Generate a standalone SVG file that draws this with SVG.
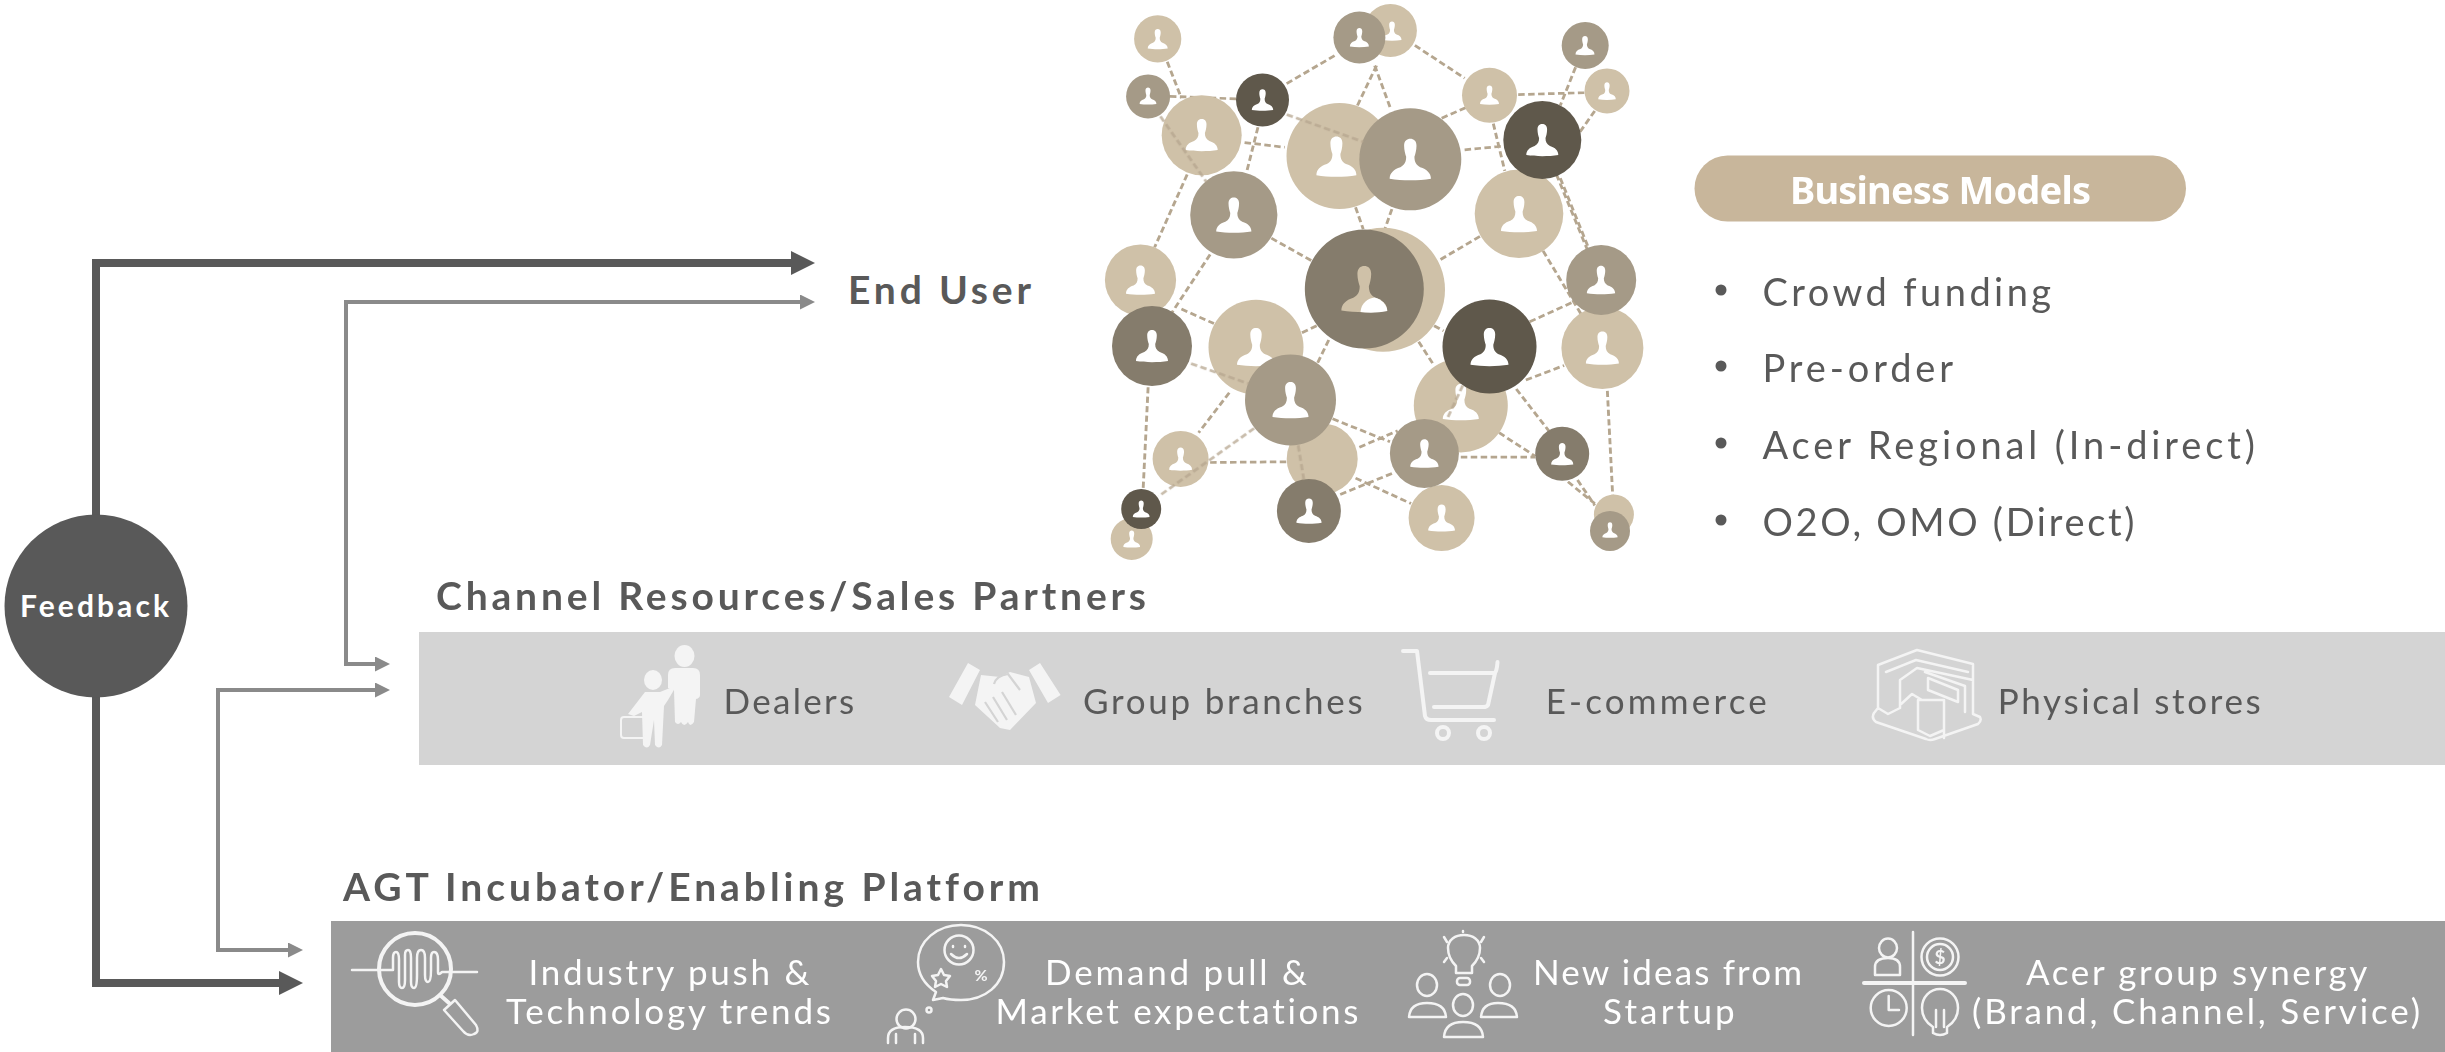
<svg xmlns="http://www.w3.org/2000/svg" width="2445" height="1052" viewBox="0 0 2445 1052">
<style>
text{font-family:"Lato","Noto Sans","Liberation Sans",sans-serif;font-variant-ligatures:none}
.h{font-weight:700;font-size:39px;fill:#595959}
.b{font-size:38px;fill:#595959}
.c{font-size:35px;fill:#595959}
.w{font-size:35px;fill:#fff}
.L{fill:#cfc1a8}.M{fill:#a59a87}.K{fill:#857c6c}.D{fill:#5f584b}
.dash{fill:none;stroke:#b5a68f;stroke-width:7.5;stroke-dasharray:17 9}
.thick{fill:none;stroke:#595959;stroke-width:8}
.thin{fill:none;stroke:#8a8a8a;stroke-width:4}
.ic{fill:none;stroke:#f4f4f4;stroke-width:4;stroke-linecap:round;stroke-linejoin:round}
.it{fill:none;stroke:#f4f4f4;stroke-width:2.5;stroke-linecap:round;stroke-linejoin:round}
.if{fill:#f4f4f4}
.p{fill:#fff}
</style>
<defs>
<marker id="ah1" markerUnits="userSpaceOnUse" markerWidth="24" markerHeight="24" refX="4" refY="12" orient="auto"><path d="M0 0L24 12L0 24Z" fill="#595959"/></marker>
<marker id="ah2" markerUnits="userSpaceOnUse" markerWidth="15" markerHeight="15" refX="3" refY="7.5" orient="auto-start-reverse"><path d="M0 0L15 7.5L0 15Z" fill="#8a8a8a"/></marker>
<path id="u" d="M-15-33C-15-45-8-50 0-50C8-50 15-45 15-33C15-22 12-12 10-6C10 6 14 14 24 19C40 24 50 33 50 47C20 52-20 52-50 47C-50 33-40 24-24 19C-14 14-10 6-10-6C-12-12-15-22-15-33Z"/>
<filter id="soft" x="-5%" y="-5%" width="110%" height="110%"><feGaussianBlur stdDeviation="0.7"/></filter>
</defs>

<g id="connectors">
<path class="thick" d="M96 515V263H795" marker-end="url(#ah1)"/>
<path class="thick" d="M96 697V983H283" marker-end="url(#ah1)"/>
<path class="thin" d="M803 302H346V664H378" marker-start="url(#ah2)" marker-end="url(#ah2)"/>
<path class="thin" d="M378 690H218V950H291" marker-start="url(#ah2)" marker-end="url(#ah2)"/>
</g>

<g id="feedback">
<circle cx="96" cy="606" r="91.5" fill="#595959"/>
<text x="20" y="617" font-size="30" font-weight="700" fill="#fff" textLength="149">Feedback</text>
</g>

<g id="end-user">
<text class="h" x="848" y="304" textLength="183">End User</text>
</g>

<g id="network" filter="url(#soft)">
<g id="network-links" transform="translate(1080 0) scale(.3827 .3636)">
<path class="dash" d="M228 170L265 270M235 265L410 272M540 230L670 150M875 125L1005 215M770 180L812 300M775 180L725 290M430 392L535 405M465 350L435 475M280 480L195 680M340 700L240 860M500 655L610 720M720 570L740 630M815 575L795 635M945 325L1010 295M1005 412L1105 402M1145 260L1320 255M1295 185L1255 290M1345 305L1305 365M1080 340L1110 470M1245 480L1325 685M1255 490L1330 685M1045 650L940 715M1210 690L1310 865M1175 885L1290 830M880 870L950 910M885 940L925 1005M265 850L350 890M580 915L620 895M650 935L620 1000M1165 1045L1265 1005M1140 1070L1225 1185M1095 1190L1190 1255M1378 1075L1392 1365M178 1065L165 1345M390 1080L310 1190M340 1272L545 1270M660 1152L810 1215M730 1230L830 1185M995 1257L1190 1257M680 1360L820 1300M720 1315L865 1385M1275 1325L1345 1385M1300 1320L1345 1390"/>
</g>
<circle class="L" cx="1157.7" cy="38.9" r="23.6"/><use href="#u" class="p" transform="translate(1157.7 39) scale(.2)"/>
<circle class="L" cx="1390.4" cy="30.5" r="26.5"/><use href="#u" class="p" transform="translate(1392 31) scale(.19)"/>
<circle class="M" cx="1359.4" cy="37.5" r="26"/><use href="#u" class="p" transform="translate(1359.4 37.5) scale(.19)"/>
<circle class="M" cx="1585.2" cy="45.5" r="23.5"/><use href="#u" class="p" transform="translate(1585 45.5) scale(.19)"/>
<circle class="L" cx="1489.5" cy="95.3" r="27.5"/><use href="#u" class="p" transform="translate(1489.5 95) scale(.19)"/>
<circle class="L" cx="1607" cy="90.9" r="22.5"/><use href="#u" class="p" transform="translate(1607 91) scale(.176)"/>
<circle class="L" cx="1201.7" cy="135.3" r="40"/><use href="#u" class="p" transform="translate(1201.7 135) scale(.32)"/>
<circle class="M" cx="1148.1" cy="96.4" r="22"/><use href="#u" class="p" transform="translate(1148 96) scale(.168)"/>
<circle class="D" cx="1262.5" cy="100" r="26.5"/><use href="#u" class="p" transform="translate(1262.5 100) scale(.214)"/>
<circle class="L" cx="1339.5" cy="156" r="53"/><use href="#u" class="p" transform="translate(1336.4 156.4) scale(.4)"/>
<circle class="M" cx="1410.3" cy="159.3" r="51"/><use href="#u" class="p" transform="translate(1410.3 159.3) scale(.413)"/>
<circle class="L" cx="1519" cy="213.8" r="44.3"/><use href="#u" class="p" transform="translate(1519 214) scale(.36)"/>
<circle class="D" cx="1542.3" cy="140" r="39"/><use href="#u" class="p" transform="translate(1542.3 140) scale(.32)"/>
<circle class="M" cx="1233.8" cy="214.9" r="43.6"/><use href="#u" class="p" transform="translate(1233.8 215) scale(.352)"/>
<circle class="L" cx="1140.5" cy="280" r="35.6"/><use href="#u" class="p" transform="translate(1140.5 280) scale(.29)"/>
<circle class="L" cx="1602.4" cy="348" r="41"/><use href="#u" class="p" transform="translate(1602.4 348) scale(.33)"/>
<circle class="M" cx="1601.2" cy="280" r="35"/><use href="#u" class="p" transform="translate(1601 280) scale(.283)"/>
<circle class="L" cx="1383" cy="289.8" r="62"/>
<circle class="K" cx="1364.3" cy="289" r="59.5"/>
<use href="#u" class="L" transform="translate(1364.3 289) scale(.459)"/>
<path class="p" d="M1360.5 312C1361 303 1368 298 1374.7 297.4C1381 299 1387 304 1387.3 311C1378 313 1368 313 1360.5 312Z"/>
<circle class="K" cx="1152" cy="346.1" r="40"/><use href="#u" class="p" transform="translate(1152 346) scale(.32)"/>
<circle class="L" cx="1256" cy="347.2" r="47.5"/><use href="#u" class="p" transform="translate(1256 347) scale(.38)"/>
<circle class="L" cx="1460.8" cy="405.4" r="47"/><use href="#u" class="p" transform="translate(1460.8 402) scale(.36)"/>
<circle class="D" cx="1489.5" cy="346.5" r="47"/><use href="#u" class="p" transform="translate(1489.5 347) scale(.38)"/>
<circle class="L" cx="1322.2" cy="458.9" r="35.5"/>
<circle class="M" cx="1290.5" cy="400" r="45.5"/><use href="#u" class="p" transform="translate(1290.5 400) scale(.36)"/>
<circle class="L" cx="1180.6" cy="458.9" r="28"/><use href="#u" class="p" transform="translate(1180.6 459) scale(.23)"/>
<circle class="L" cx="1441.6" cy="518.1" r="33"/><use href="#u" class="p" transform="translate(1441.6 518) scale(.268)"/>
<circle class="M" cx="1424.4" cy="453.4" r="34.5"/><use href="#u" class="p" transform="translate(1424.4 453.4) scale(.283)"/>
<circle class="K" cx="1562.2" cy="453.8" r="27"/><use href="#u" class="p" transform="translate(1562.2 454) scale(.222)"/>
<circle class="L" cx="1131.7" cy="538.9" r="21"/><use href="#u" class="p" transform="translate(1131.7 539) scale(.168)"/>
<circle class="D" cx="1141.2" cy="509" r="20"/><use href="#u" class="p" transform="translate(1141.2 509) scale(.168)"/>
<circle class="K" cx="1308.9" cy="510.9" r="32"/><use href="#u" class="p" transform="translate(1309 511) scale(.252)"/>
<circle class="L" cx="1613.9" cy="514.5" r="20"/>
<circle class="M" cx="1610" cy="530.9" r="20"/><use href="#u" class="p" transform="translate(1610 530) scale(.153)"/>
<g id="network-links-over" transform="translate(1080 0) scale(.3827 .3636)" opacity=".75">
<path class="dash" d="M210 320L330 500M540 315L740 390M290 1000L440 1055M1000 1060L960 1150M570 1225L585 1320M455 1178L205 1365"/>
</g>
</g>

<g id="business-models">
<rect x="1694.5" y="155.5" width="491.5" height="66" rx="33" fill="#c8b69b"/>
<text x="1790" y="203.5" font-size="38" font-weight="700" fill="#fff" style="font-family:'Noto Sans','Liberation Sans',sans-serif" textLength="301">Business Models</text>
<circle cx="1721" cy="290" r="5.5" fill="#595959"/><text class="b" x="1762.5" y="306" textLength="288.6">Crowd funding</text>
<circle cx="1721" cy="366" r="5.5" fill="#595959"/><text class="b" x="1762.5" y="382" textLength="190.6">Pre-order</text>
<circle cx="1721" cy="443" r="5.5" fill="#595959"/><text class="b" x="1762.5" y="459" textLength="492.5">Acer Regional (In-direct)</text>
<circle cx="1721" cy="520" r="5.5" fill="#595959"/><text class="b" x="1762.5" y="536" textLength="372">O2O, OMO (Direct)</text>
</g>

<g id="channel">
<text class="h" x="436" y="610" textLength="710">Channel Resources/Sales Partners</text>
<rect x="419" y="632" width="2026" height="133" fill="#d4d4d4"/>
<g id="dealers">
<ellipse class="if" cx="684.5" cy="656" rx="10" ry="11"/>
<path class="if" d="M668 675Q668 668 675 668H693Q700 668 700 675V695Q700 698 696 699L694 722Q690 728 688 722Q684 728 681 722Q678 726 675 722L674 690L668 688Z"/>
<ellipse class="if" cx="653" cy="680" rx="9" ry="10"/>
<path class="if" d="M645 692H660L670 688L677 680Q680 676 678 683L668 700L664 706L662 745Q659 750 655 745L654 720L650 745Q647 750 643 745L642 712L634 716L628 714Z"/>
<rect x="621" y="717" width="25" height="21" rx="3" fill="none" stroke="#f4f4f4" stroke-width="2"/>
<text class="c" x="723.5" y="714" textLength="130.7">Dealers</text>
</g>
<g id="group-branches">
<path class="if" d="M949 697L968 663L980 670L962 705ZM1029 670L1040 663L1060.6 695L1048 703Z"/>
<path class="if" d="M981 675L1000 677L1010 672L1029 677L1036 703L1010 730L1000 728L975 705Z"/>
<path fill="none" stroke="#d4d4d4" stroke-width="2.2" d="M985 702L998 722M993 697L1007 720M1002 692L1016 715M1020 690L1008 674Q996 676 994 684"/>
<text class="c" x="1083" y="714" textLength="279.6">Group branches</text>
</g>
<g id="e-commerce">
<path class="ic" d="M1403 651H1417L1425 716Q1426 720 1431 720H1494M1430 673H1494M1497.5 662Q1497 670 1495 673L1488 705Q1487 707 1483 707H1434"/>
<circle class="ic" cx="1443" cy="733" r="6"/><circle class="ic" cx="1484" cy="733" r="6"/>
<text class="c" x="1545.7" y="714" textLength="221">E-commerce</text>
</g>
<g id="physical-stores">
<path class="it" stroke-width="3" d="M1878 665L1917 650L1973 664V714L1980 717Q1982 721 1978 724L1935 739Q1930 741 1926 739L1876 722Q1871 718 1874 713L1878 708ZM1878 665V708L1888 714L1900 708V680L1917 668L1973 680M1886 672L1916 660L1968 672M1900 680V705L1912 694L1922 700M1925 672L1965 686V712M1928 678L1958 690V702L1928 690ZM1918 700H1944V738M1918 700V730L1930 736L1944 730"/>
<text class="c" x="1997.7" y="714" textLength="263">Physical stores</text>
</g>
</g>

<g id="platform">
<text class="h" x="343" y="901" textLength="697">AGT Incubator/Enabling Platform</text>
<rect x="331" y="921" width="2114" height="131" fill="#9c9c9c"/>
<g id="industry">
<circle class="ic" stroke-width="5" cx="415" cy="969" r="36"/>
<path class="it" d="M352 970H383H393V958Q393 952 396 952Q399 952 399 960V982Q399 988 402 988Q405 988 405 980V955Q405 950 408 950Q411 950 411 958V982Q411 988 414 988Q417 988 417 975V958Q417 950 421 950Q425 950 425 958V975Q425 982 428 982Q431 982 431 970V958Q431 952 434 952Q438 952 438 960V972Q438 976 442 972H477"/>
<path class="ic" d="M440 995L449 1003"/>
<path class="it" d="M455 1000L476 1025Q480 1032 474 1034Q468 1037 463 1031L444 1010Z"/>
<text class="w" x="528.4" y="984.5" textLength="281">Industry push &amp;</text>
<text class="w" x="506" y="1024" textLength="325">Technology trends</text>
</g>
<g id="demand">
<path class="it" stroke-width="3" d="M918 962C918 941 937 925 961 925C985 925 1004 941 1004 962C1004 985 985 1000 961 1000Q950 1000 943 998L933 1000L936 992Q918 980 918 962Z"/>
<circle class="it" cx="959" cy="950" r="14.5"/>
<path class="it" d="M951 954Q959 962 967 954M953 946V947M965 946V947"/>
<path class="it" d="M941 969L944 975L950 976L946 981L947 987L941 984L935 987L936 981L932 976L938 975Z"/>
<text x="981" y="981" font-size="16" font-weight="700" fill="#f4f4f4" text-anchor="middle">%</text>
<circle class="it" cx="906" cy="1019" r="9.5"/>
<circle class="it" cx="929" cy="1010" r="2.5"/>
<path class="it" d="M888 1043V1038Q888 1027 905 1027Q923 1027 923 1038V1043M896 1034V1043M915 1034V1043"/>
<text class="w" x="1045" y="984.5" textLength="262">Demand pull &amp;</text>
<text class="w" x="995.5" y="1024" textLength="363">Market expectations</text>
</g>
<g id="ideas">
<path class="it" d="M1456 973V966Q1448 958 1448 948C1448 940 1455 935 1464 935C1473 935 1480 940 1480 948Q1480 958 1472 966V973ZM1456 973H1472"/>
<rect class="it" x="1457" y="978" width="13" height="7" rx="3"/>
<path class="it" d="M1463 931V932M1444 937L1447 942M1484 937L1481 942M1444 962L1447 958M1484 962L1481 958"/>
<ellipse class="it" cx="1427" cy="985" rx="10" ry="11"/><ellipse class="it" cx="1500" cy="985" rx="10" ry="11"/><ellipse class="it" cx="1463" cy="1005" rx="10" ry="11"/>
<path class="it" d="M1409 1017Q1410 1003 1427 1003Q1445 1003 1446 1017ZM1481 1017Q1482 1003 1498 1003Q1516 1003 1517 1017ZM1444 1037Q1445 1022 1463 1022Q1482 1022 1483 1037Z"/>
<text class="w" x="1533" y="984.5" textLength="269">New ideas from</text>
<text class="w" x="1603" y="1024" textLength="131.7">Startup</text>
</g>
<g id="synergy">
<path class="it" d="M1913 932V1035"/><path class="ic" d="M1864 983H1965"/>
<ellipse class="it" cx="1888" cy="948" rx="9" ry="9.5"/>
<path class="it" d="M1875 975V967Q1875 958 1888 958Q1900 958 1900 967V975Z"/>
<circle class="it" cx="1940" cy="957" r="18.5"/><circle class="it" cx="1940" cy="957" r="13"/>
<text x="1940" y="964" font-size="19" font-weight="700" fill="#f4f4f4" text-anchor="middle">$</text>
<circle class="it" cx="1888.7" cy="1008" r="18"/>
<path class="it" d="M1888.7 996V1010H1899"/>
<path class="it" d="M1933 1027Q1922 1020 1922 1008C1922 997 1930 989 1940 989C1950 989 1958 997 1958 1008Q1958 1020 1947 1027V1033Q1940 1037 1933 1033ZM1936 1027V1010M1944 1027V1010"/>
<text class="w" x="2026" y="984.5" textLength="341.3">Acer group synergy</text>
<text class="w" x="1972" y="1024" textLength="448">(Brand, Channel, Service)</text>
</g>
</g>
</svg>
